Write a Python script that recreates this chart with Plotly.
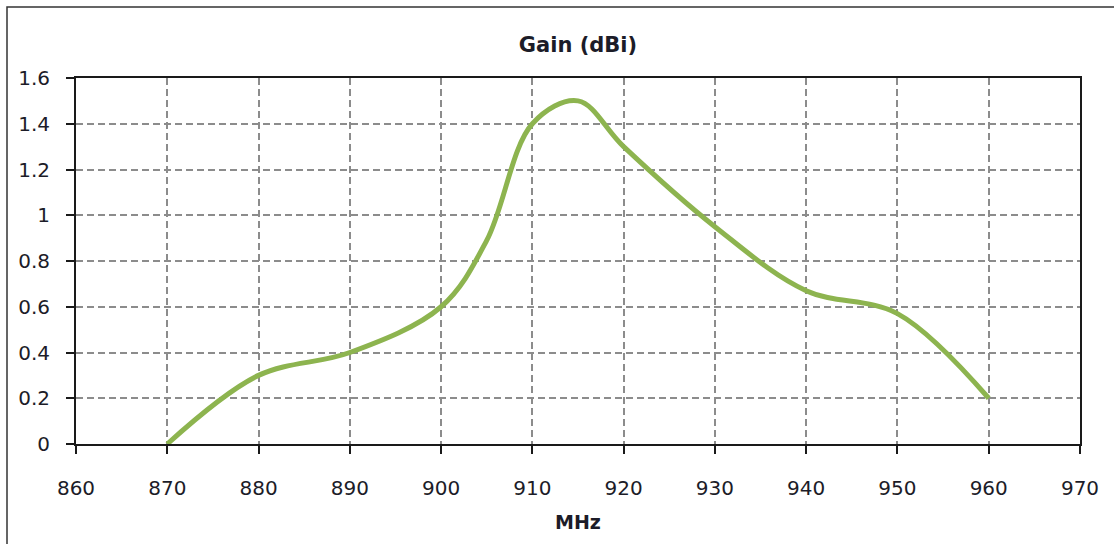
import plotly.graph_objects as go

# ---- data ----
freq_mhz = [870, 880, 890, 900, 905, 910, 915, 920, 930, 940, 950, 960]
gain_dbi = [0.0, 0.3, 0.4, 0.6, 0.89, 1.4, 1.5, 1.3, 0.95, 0.67, 0.57, 0.2]
x_tick_vals = [860, 870, 880, 890, 900, 910, 920, 930, 940, 950, 960, 970]
y_tick_vals = [0, 0.2, 0.4, 0.6, 0.8, 1.0, 1.2, 1.4, 1.6]
y_tick_text = ["0", "0.2", "0.4", "0.6", "0.8", "1", "1.2", "1.4", "1.6"]
chart_title = "Gain (dBi)"
x_title = "MHz"

# ---- layout geometry ----
W, H = 1114, 544
ML, MR, MT, MB = 76, 34, 78, 100
PW, PH = W - ML - MR, H - MT - MB

FONT = "DejaVu Sans"
TXT = "#1c1c28"

fig = go.Figure()
fig.add_trace(go.Scatter(
    x=freq_mhz, y=gain_dbi, mode="lines",
    line=dict(color="#8DB44F", width=5, shape="spline", smoothing=1.0),
    showlegend=False, hoverinfo="x+y",
))

axis_common = dict(
    showline=True, linecolor="#1a1a1a", linewidth=2, mirror=True,
    ticks="outside", ticklen=8, tickwidth=1.8, tickcolor="#1a1a1a",
    showgrid=True, gridcolor="#8c8c8c", gridwidth=1.6, griddash="7px,4px",
    zeroline=False, tickfont=dict(family=FONT, size=20, color=TXT),
)

fig.update_layout(
    width=W, height=H,
    margin=dict(l=ML, r=MR, t=MT, b=MB, pad=0),
    paper_bgcolor="white", plot_bgcolor="white",
    title=dict(text=chart_title, x=0.5, xref="paper", xanchor="center",
               y=1 - 45 / H, yref="container", yanchor="middle",
               font=dict(family=FONT, size=21, color=TXT, weight="bold")),
    xaxis=dict(range=[860, 970], tickvals=x_tick_vals, ticklabelstandoff=17,
               **axis_common),
    yaxis=dict(range=[0, 1.6], tickvals=y_tick_vals, ticktext=y_tick_text,
               ticklabelstandoff=12, **axis_common),
    annotations=[dict(text="<b>" + x_title + "</b>", xref="paper", yref="paper",
                      x=0.5, y=-(521.5 - (H - MB)) / PH, xanchor="center",
                      yanchor="middle", showarrow=False,
                      font=dict(family=FONT, size=19, color=TXT))],
    shapes=[dict(type="rect", xref="paper", yref="paper",
                 x0=(7 - ML) / PW, x1=(W + 20 - ML) / PW,
                 y0=-(H + 20 - (H - MB)) / PH, y1=((H - MB) - 7) / PH,
                 line=dict(color="#333333", width=1.5), layer="below")],
)

fig.write_html("out.html", config={"displayModeBar": False},
               post_script="document.body.style.margin='0';")
